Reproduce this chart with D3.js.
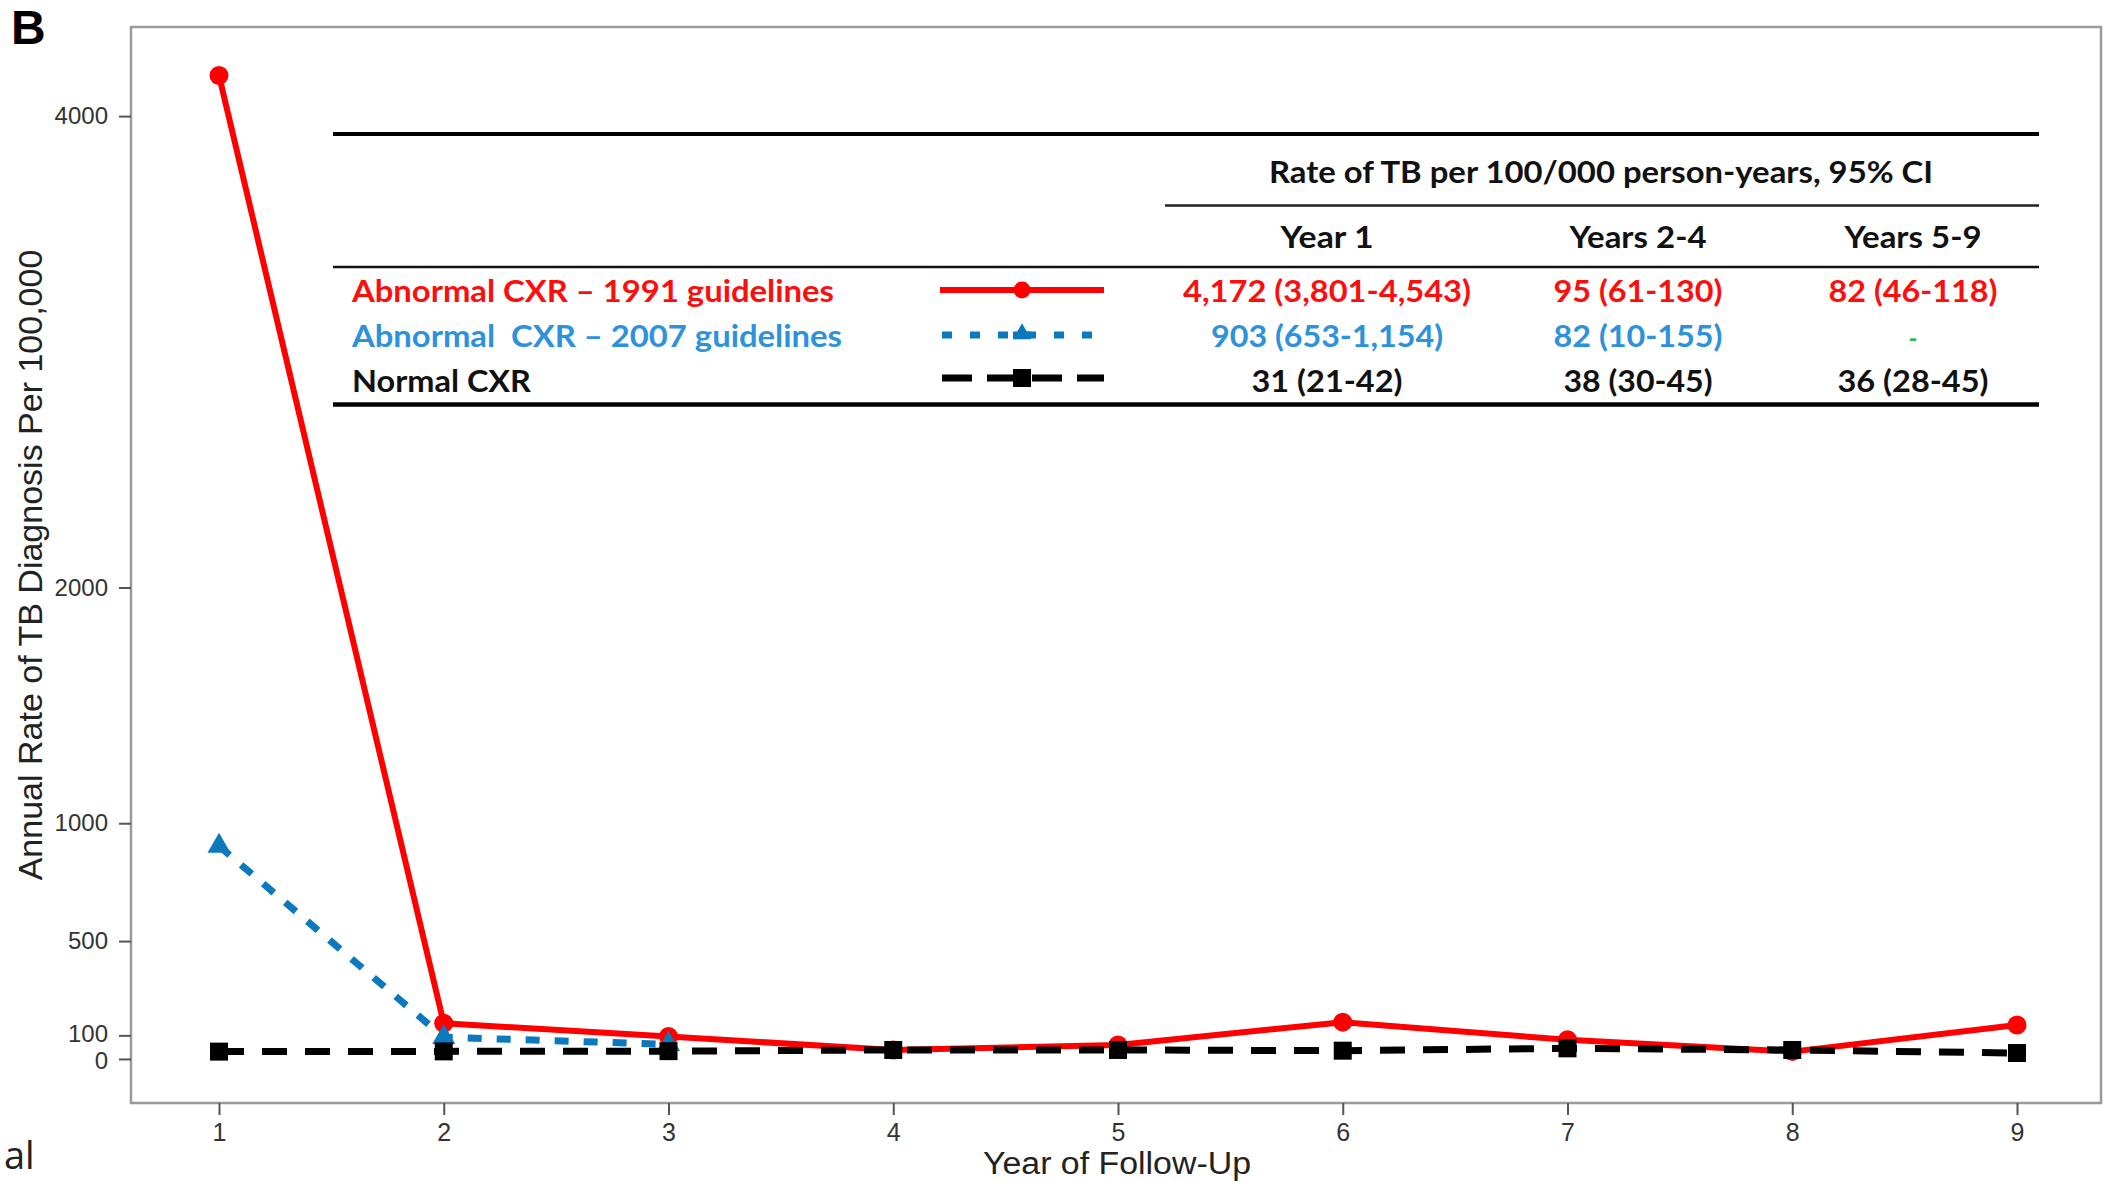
<!DOCTYPE html>
<html><head><meta charset="utf-8">
<script src="https://cdn.jsdelivr.net/npm/d3@7"></script>
<style>html,body{margin:0;padding:0;background:#fff;} svg{display:block}</style>
</head><body>
<script>
// ---------------- data ----------------
const years = [1, 2, 3, 4, 5, 6, 7, 8, 9];
const rateAbn1991 = [4172, 151, 95, 38, 59, 156, 81, 31, 144];
const years2007 = [1, 2, 3];
const rateAbn2007 = [903, 92, 62];
const rateNormal = [31, 32, 33, 38, 38, 35, 45, 38, 25];
const yTickValues = [0, 100, 500, 1000, 2000, 4000];
const xTickValues = [1, 2, 3, 4, 5, 6, 7, 8, 9];

const tableTitle = "Rate of TB per 100/000 person-years, 95% CI";
const periodLabels = ["Year 1", "Years 2-4", "Years 5-9"];
const seriesLabels = ["Abnormal CXR – 1991 guidelines", "Abnormal  CXR – 2007 guidelines", "Normal CXR"];
const tableAbn1991 = ["4,172 (3,801-4,543)", "95 (61-130)", "82 (46-118)"];
const tableAbn2007 = ["903 (653-1,154)", "82 (10-155)", "-"];
const tableNormal = ["31 (21-42)", "38 (30-45)", "36 (28-45)"];

// ---------------- styles / layout ----------------
const W = 2105, H = 1182;
const RED = "#ff0000", BLUE = "#0b79c0", BLACK = "#000000";
const RED_T = "#ff0d0d", BLUE_T = "#2d91dc", GREEN_T = "#2db34a";
const axisFont = "'Liberation Sans', Arial, Helvetica, sans-serif";
const tableFont = "Lato, 'Open Sans', sans-serif";

const svg = d3.select("body").append("svg").attr("width", W).attr("height", H)
  .style("background", "#fff");

const panel = {left: 131, top: 27, right: 2101, bottom: 1103};
const x = d3.scaleLinear().domain([1, 9]).range([219, 2017]);
const y = d3.scaleLinear().domain([-187, 4378]).range([panel.bottom, panel.top]);

// panel border
svg.append("rect")
  .attr("x", panel.left).attr("y", panel.top)
  .attr("width", panel.right - panel.left).attr("height", panel.bottom - panel.top)
  .attr("fill", "none").attr("stroke", "#9a9a9a").attr("stroke-width", 2.5);

// axes
const gy = svg.append("g").attr("transform", `translate(${panel.left},0)`)
  .call(d3.axisLeft(y).tickValues(yTickValues).tickSize(12).tickPadding(11).tickFormat(d3.format("d")));
const gx = svg.append("g").attr("transform", `translate(0,${panel.bottom})`)
  .call(d3.axisBottom(x).tickValues(xTickValues).tickSize(12).tickPadding(8).tickFormat(d3.format("d")));
[gy, gx].forEach(g => {
  g.select(".domain").remove();
  g.selectAll(".tick line").attr("stroke", "#555").attr("stroke-width", 2);
  g.selectAll(".tick text").attr("fill", "#333").style("font-family", axisFont).style("font-size", "25px");
});
// the two lowest y labels sit very close together: nudge them apart slightly
gy.selectAll(".tick text").style("font-size", "24px")
  .attr("y", d => d === 0 ? 1.8 : (d === 100 ? -1.8 : 0));

// axis titles
svg.append("text").attr("x", 1117).attr("y", 1174).attr("text-anchor", "middle")
  .style("font-family", axisFont).style("font-size", "31px").attr("fill", "#222")
  .attr("textLength", 268).attr("lengthAdjust", "spacingAndGlyphs")
  .text("Year of Follow-Up");
svg.append("text").attr("transform", "translate(42,565) rotate(-90)").attr("text-anchor", "middle")
  .style("font-family", axisFont).style("font-size", "34px").attr("fill", "#222")
  .text("Annual Rate of TB Diagnosis Per 100,000");

// panel letter and stray caption
svg.append("text").attr("x", 11).attr("y", 44)
  .style("font-family", axisFont).style("font-size", "48px").style("font-weight", "bold").attr("fill", "#000")
  .text("B");
svg.append("text").attr("x", 4).attr("y", 1169)
  .style("font-family", "'Open Sans', sans-serif").style("font-size", "38px").attr("fill", "#222")
  .text("al");

// ---------------- series ----------------
const line = d3.line().x(d => x(d[0])).y(d => y(d[1]));
const redPts = years.map((yr, i) => [yr, rateAbn1991[i]]);
const bluePts = years2007.map((yr, i) => [yr, rateAbn2007[i]]);
const blackPts = years.map((yr, i) => [yr, rateNormal[i]]);

// red
svg.append("path").datum(redPts).attr("d", line)
  .attr("fill", "none").attr("stroke", RED).attr("stroke-width", 6).attr("stroke-linejoin", "round");
svg.append("g").selectAll("circle").data(redPts).join("circle")
  .attr("cx", d => x(d[0])).attr("cy", d => y(d[1])).attr("r", 9.5).attr("fill", RED);

// blue
svg.append("path").datum(bluePts).attr("d", line)
  .attr("fill", "none").attr("stroke", BLUE).attr("stroke-width", 7).attr("stroke-dasharray", "14,15");
svg.append("g").selectAll("path").data(bluePts).join("path")
  .attr("transform", d => `translate(${x(d[0])},${y(d[1])})`)
  .attr("d", d3.symbol(d3.symbolTriangle, 230)).attr("fill", BLUE);

// black
svg.append("path").datum(blackPts).attr("d", line)
  .attr("fill", "none").attr("stroke", BLACK).attr("stroke-width", 7).attr("stroke-dasharray", "25,18");
svg.append("g").selectAll("path").data(blackPts).join("path")
  .attr("transform", d => `translate(${x(d[0])},${y(d[1])})`)
  .attr("d", d3.symbol(d3.symbolSquare, 324)).attr("fill", BLACK);

// ---------------- inset table ----------------
const T = {left: 333, right: 2039, subLeft: 1165, lineTop: 134, lineSub: 205.5, lineHead: 267, lineBottom: 404.5,
  labelX: 352, sampleX0: 940, sampleX1: 1104, sampleMid: 1022,
  colX: [1327, 1638, 1913], titleX: 1601, titleY: 172, headY: 237, rowY: [291, 336, 381]};

const hline = (x1, x2, yy, w, c) => svg.append("line").attr("x1", x1).attr("x2", x2)
  .attr("y1", yy).attr("y2", yy).attr("stroke", c).attr("stroke-width", w);
hline(T.left, T.right, T.lineTop, 4, "#000");
hline(T.subLeft, T.right, T.lineSub, 2.5, "#222");
hline(T.left, T.right, T.lineHead, 2.5, "#111");
hline(T.left, T.right, T.lineBottom, 4.5, "#000");

function ttext(str, xx, yc, anchor, color, width) {
  const t = svg.append("text").attr("x", xx).attr("y", yc + 11)
    .attr("text-anchor", anchor).attr("fill", color)
    .style("font-family", tableFont).style("font-size", "31px").style("font-weight", "700")
    .style("white-space", "pre").text(str);
  if (width) t.attr("textLength", width).attr("lengthAdjust", "spacingAndGlyphs");
  return t;
}

ttext(tableTitle, T.titleX, T.titleY, "middle", "#111", 664);
const headW = [93, 137, 137];
periodLabels.forEach((p, i) => ttext(p, T.colX[i], T.headY, "middle", "#111", headW[i]));

const labelW = [482, 490, 179];
const labelColors = [RED_T, BLUE_T, "#111"];
seriesLabels.forEach((s, i) => ttext(s, T.labelX, T.rowY[i], "start", labelColors[i], labelW[i]));

const valW = [[288, 169, 169], [232, 169, null], [151, 149, 151]];
[tableAbn1991, tableAbn2007, tableNormal].forEach((row, r) => {
  row.forEach((v, c) => {
    const isDash = v === "-";
    const col = isDash ? GREEN_T : labelColors[r];
    const t = ttext(v, T.colX[c], T.rowY[r], "middle", col, valW[r][c]);
    if (isDash) t.style("font-size", "24px");
  });
});

// legend samples
const sy = [T.rowY[0] - 1, T.rowY[1] - 1, T.rowY[2] - 3];
hline(T.sampleX0, T.sampleX1, sy[0], 6, RED);
svg.append("circle").attr("cx", T.sampleMid).attr("cy", sy[0]).attr("r", 8.5).attr("fill", RED);

svg.append("line").attr("x1", T.sampleX0 + 2).attr("x2", T.sampleX1).attr("y1", sy[1]).attr("y2", sy[1])
  .attr("stroke", BLUE).attr("stroke-width", 7).attr("stroke-dasharray", "10,18");
svg.append("path").attr("transform", `translate(${T.sampleMid},${sy[1] - 1})`)
  .attr("d", d3.symbol(d3.symbolTriangle, 150)).attr("fill", BLUE);
svg.append("rect").attr("x", T.sampleMid - 9).attr("y", sy[1] - 3.5).attr("width", 18).attr("height", 7).attr("fill", BLUE);

svg.append("line").attr("x1", T.sampleX0 + 2).attr("x2", T.sampleX1).attr("y1", sy[2]).attr("y2", sy[2])
  .attr("stroke", BLACK).attr("stroke-width", 7).attr("stroke-dasharray", "30,15");
svg.append("path").attr("transform", `translate(${T.sampleMid},${sy[2]})`)
  .attr("d", d3.symbol(d3.symbolSquare, 324)).attr("fill", BLACK);
</script>
</body></html>
